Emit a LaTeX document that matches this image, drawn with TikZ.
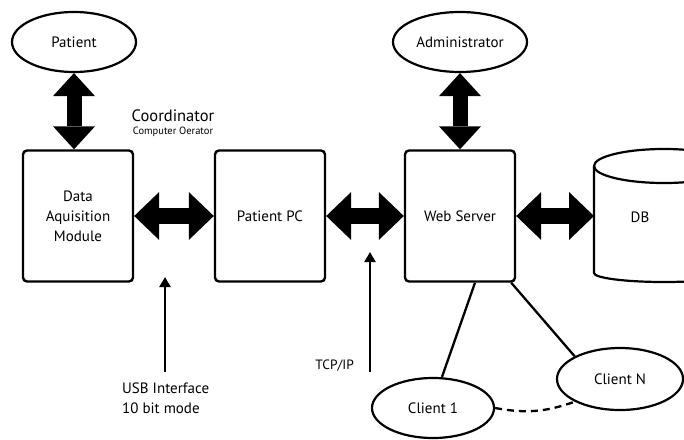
\documentclass[tikz,border=0pt]{standalone}
\usepackage{fontspec}
\setmainfont{PT Sans}
\usetikzlibrary{arrows.meta,shapes.geometric,calc}
\begin{document}
\begin{tikzpicture}[x=1pt,y=-1pt,
  box/.style={draw,line width=2.4pt,rounded corners=4pt,minimum width=110pt,minimum height=131pt,inner sep=0pt,font=\fontsize{15}{20}\selectfont,align=center},
  oval/.style={draw,ellipse,line width=2.2pt,inner sep=0pt,font=\fontsize{15}{18}\selectfont},
  hdbl/.style={line width=16pt,{Triangle[length=25pt,width=48pt,line width=0pt]}-{Triangle[length=25pt,width=48pt,line width=0pt]}},
  vdbl/.style={line width=15pt,{Triangle[length=23pt,width=42pt,line width=0pt]}-{Triangle[length=23pt,width=42pt,line width=0pt]}},
  thin/.style={line width=2.3pt},
  lbl/.style={font=\fontsize{15}{20}\selectfont,inner sep=0pt}
]
\useasboundingbox (0,0) rectangle (684,439);
\clip (0,0) rectangle (684,439);

% ovals
\node[oval,minimum width=124pt,minimum height=60pt] (patient) at (74,42) {Patient};
\node[oval,minimum width=134pt,minimum height=60pt] (admin) at (460,42) {Administrator};
\node[oval,minimum width=122pt,minimum height=60pt] (c1) at (433,408) {Client 1};
\node[oval,minimum width=126pt,minimum height=62pt] (cn) at (620,379) {Client N};

% boxes
\node[box] (daq) at (78,216) {Data\\Aquisition\\Module};
\node[box] (pc) at (270,216) {Patient PC};
\node[box] (web) at (460,216) {Web Server};

% DB cylinder
\coordinate (dbw) at (594,216);
\draw[line width=2.2pt,fill=white] (594,166) -- (594,273)
   arc[start angle=180,end angle=360,x radius=70pt,y radius=9pt] -- (734,166);
\draw[line width=2.2pt] (664,166) ellipse[x radius=70pt,y radius=17pt];
\node[font=\fontsize{15}{18}\selectfont] (db) at (640,217) {DB};

% coordinator text
\node[font=\fontsize{16.5}{20}\selectfont,inner sep=0pt] (coord) at (173,116) {Coordinator};
\node[font=\fontsize{10.5}{12}\selectfont,inner sep=0pt] (oper) at (173,132) {Computer Oerator};

% thick double arrows
\draw[vdbl] (patient.south) -- (daq.north -| patient.south);
\draw[vdbl] (admin.south) -- (web.north -| admin.south);
\draw[hdbl] (daq.east) -- (pc.west);
\draw[hdbl] (pc.east) -- (web.west);
\draw[hdbl] (web.east) -- (dbw);

% interface labels
\node[lbl,align=left,anchor=west] (usb) at (122,398) {USB Interface\\10 bit mode};
\coordinate (usbtip) at (165,277);
\draw[thin,-{Triangle[length=10pt,width=11pt]}] (165,372) -- (usbtip);
\node[font=\fontsize{13.5}{16}\selectfont,inner sep=0pt,anchor=east] (tcp) at (354,366) {TCP/IP};
\coordinate (tcptip) at (370,252);
\draw[thin,-{Triangle[length=10pt,width=11pt]}] (370,372) -- (tcptip);

% client links
\draw[thin] (web.south) ++(15,0) coordinate (w1) -- ([xshift=9pt]c1.north);
\draw[thin] (web.south east) ++(-5,0) coordinate (w2) -- (cn.north west);
\draw[thin,dash pattern=on 7pt off 5pt] (c1.east) to[bend right=15] (cn.south west);
\end{tikzpicture}
\end{document}
